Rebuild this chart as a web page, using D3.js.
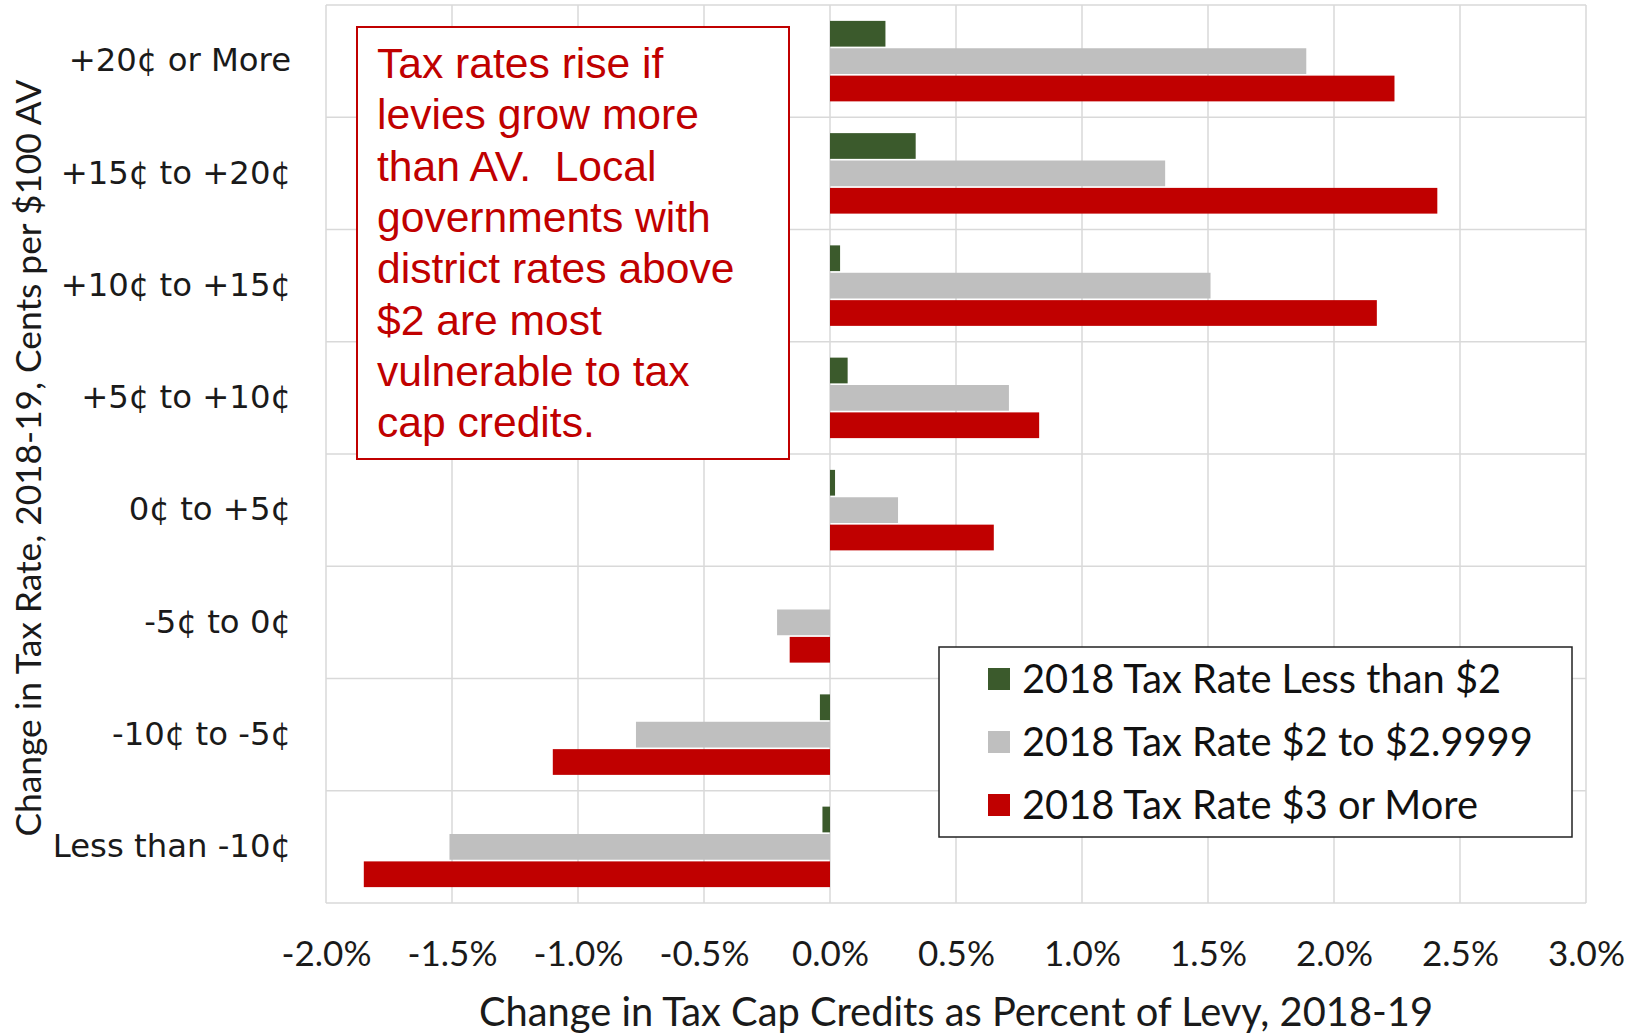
<!DOCTYPE html>
<html>
<head>
<meta charset="utf-8">
<script src="https://cdn.jsdelivr.net/npm/d3@7"></script>
<style>
  body { margin: 0; background: #fff; }
  svg { display: block; }
</style>
</head>
<body>
<svg id="chart"></svg>
<script>
// rows, top to bottom
const categories = ["+20¢ or More", "+15¢ to +20¢", "+10¢ to +15¢", "+5¢ to +10¢",
    "0¢ to +5¢", "-5¢ to 0¢", "-10¢ to -5¢", "Less than -10¢"];
const seriesNames = ["2018 Tax Rate Less than $2", "2018 Tax Rate $2 to $2.9999", "2018 Tax Rate $3 or More"];
// change in tax cap credits, percent of levy
const rateLessThan2 = [0.22, 0.34, 0.04, 0.07, 0.02, 0.0, -0.04, -0.03];
const rate2To3 = [1.89, 1.33, 1.51, 0.71, 0.27, -0.21, -0.77, -1.51];
const rate3OrMore = [2.24, 2.41, 2.17, 0.83, 0.65, -0.16, -1.10, -1.85];
const xTicks = [-2.0, -1.5, -1.0, -0.5, 0.0, 0.5, 1.0, 1.5, 2.0, 2.5, 3.0];
const noteLines = ["Tax rates rise if", "levies grow more", "than AV.  Local", "governments with",
    "district rates above", "$2 are most", "vulnerable to tax", "cap credits."];

class TaxCapChart {
    plot = { left: 326, right: 1586, top: 5, bottom: 903 }
    colors = ["#3b5a2c", "#bfbfbf", "#c00000"]

    constructor(svg, width = 1637, height = 1035) {
        this.svg = d3.select(svg);
        this.width = width;
        this.height = height;
    }

    initialize() {
        this.svg.attr("width", this.width).attr("height", this.height);
        this.svg.append("rect").attr("width", this.width).attr("height", this.height).attr("fill", "#fff");

        this.xScale = d3.scaleLinear()
            .domain([xTicks[0], xTicks[xTicks.length - 1]])
            .range([this.plot.left, this.plot.right]);
        this.yScale = d3.scaleBand()
            .domain(categories)
            .range([this.plot.top, this.plot.bottom]);
        // bars inside a row
        this.innerScale = d3.scaleBand()
            .domain(seriesNames)
            .range([0, this.yScale.bandwidth()])
            .paddingInner(0.06)
            .paddingOuter(0.58);

        this.grid = this.svg.append("g");
        this.container = this.svg.append("g");
        this.xAxis = this.svg.append("g");
        this.yAxis = this.svg.append("g");
        this.note = this.svg.append("g");
        this.legend = this.svg.append("g");
    }

    update() {
        const data = categories.map((c, i) => ({
            name: c,
            values: [rateLessThan2[i], rate2To3[i], rate3OrMore[i]]
        }));

        // gridlines
        this.grid.selectAll("line.v")
            .data(xTicks)
            .join("line")
            .attr("class", "v")
            .attr("x1", d => this.xScale(d)).attr("x2", d => this.xScale(d))
            .attr("y1", this.plot.top).attr("y2", this.plot.bottom)
            .attr("stroke", "#d9d9d9").attr("stroke-width", 1.5);
        const hLines = categories.map(c => this.yScale(c)).concat([this.plot.bottom]);
        this.grid.selectAll("line.h")
            .data(hLines)
            .join("line")
            .attr("class", "h")
            .attr("x1", this.plot.left).attr("x2", this.plot.right)
            .attr("y1", d => d).attr("y2", d => d)
            .attr("stroke", "#d9d9d9").attr("stroke-width", 1.5);

        // bars
        const rows = this.container.selectAll("g")
            .data(data)
            .join("g")
            .attr("transform", d => `translate(0, ${this.yScale(d.name)})`);
        rows.selectAll("rect")
            .data(d => d.values.map((v, k) => ({ key: seriesNames[k], value: v, k: k })))
            .join("rect")
            .attr("x", d => this.xScale(Math.min(0, d.value)))
            .attr("y", d => this.innerScale(d.key))
            .attr("width", d => Math.abs(this.xScale(d.value) - this.xScale(0)))
            .attr("height", this.innerScale.bandwidth())
            .attr("fill", d => this.colors[d.k]);

        // axes
        this.xAxis
            .attr("transform", `translate(0, ${this.plot.bottom})`)
            .call(d3.axisBottom(this.xScale).tickValues(xTicks).tickSize(0).tickPadding(38)
                .tickFormat(d => d.toFixed(1) + "%"));
        this.xAxis.select(".domain").remove();
        this.xAxis.selectAll("text")
            .attr("font-family", "Lato").attr("font-size", 35).attr("fill", "#1a1a1a");

        this.yAxis
            .attr("transform", `translate(291, 0)`)
            .call(d3.axisLeft(this.yScale).tickSize(0).tickPadding(0));
        this.yAxis.select(".domain").remove();
        this.yAxis.selectAll("text")
            .attr("font-family", "DejaVu Sans").attr("font-size", 32.3).attr("fill", "#1a1a1a");

        this.svg.append("text")
            .attr("x", 956).attr("y", 1026)
            .attr("text-anchor", "middle")
            .attr("font-family", "Lato").attr("font-size", 40).attr("fill", "#1a1a1a")
            .attr("textLength", 954).attr("lengthAdjust", "spacingAndGlyphs")
            .text("Change in Tax Cap Credits as Percent of Levy, 2018-19");

        this.svg.append("text")
            .attr("transform", "translate(41, 458) rotate(-90)")
            .attr("text-anchor", "middle")
            .attr("font-family", "Lato").attr("font-size", 34).attr("fill", "#1a1a1a")
            .attr("textLength", 757).attr("lengthAdjust", "spacingAndGlyphs")
            .text("Change in Tax Rate, 2018-19, Cents per $100 AV");

        // annotation box
        this.note.append("rect")
            .attr("x", 357).attr("y", 27).attr("width", 432).attr("height", 432)
            .attr("fill", "#fff").attr("stroke", "#c00000").attr("stroke-width", 2);
        this.note.selectAll("text")
            .data(noteLines)
            .join("text")
            .attr("x", 377)
            .attr("y", (d, i) => 78 + i * 51.3)
            .attr("font-family", "Liberation Sans").attr("font-size", 42.6).attr("fill", "#c00000")
            .attr("xml:space", "preserve")
            .text(d => d);

        // legend
        this.legend.append("rect")
            .attr("x", 939).attr("y", 647).attr("width", 633).attr("height", 190)
            .attr("fill", "#fff").attr("stroke", "#222").attr("stroke-width", 1.5);
        const items = this.legend.selectAll("g.item")
            .data(seriesNames)
            .join("g")
            .attr("class", "item")
            .attr("transform", (d, i) => `translate(988, ${679 + i * 63})`);
        items.append("rect")
            .attr("y", -11).attr("width", 22).attr("height", 22)
            .attr("fill", (d, i) => this.colors[i]);
        items.append("text")
            .attr("x", 34).attr("dy", "0.36em")
            .attr("font-family", "Lato").attr("font-size", 39.8).attr("fill", "#111")
            .text(d => d);
    }
}

const chart = new TaxCapChart(document.getElementById("chart"));
chart.initialize();
chart.update();
</script>
</body>
</html>
